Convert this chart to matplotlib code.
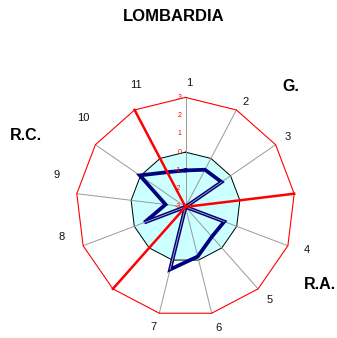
import matplotlib
matplotlib.use("Agg")
import matplotlib.pyplot as plt
import numpy as np

plt.rcParams['font.family'] = ['Liberation Sans', 'DejaVu Sans']

# Data (scale -3 .. 3, empty names are group separators)
categories = ["1", "2", "3", "", "4", "5", "6", "7", "", "8", "9", "10", "11"]
values = [-1.0, -0.7, -0.6, -3.0, -0.73, -0.82, -0.2, 0.53, -3.0, -0.59, -1.9, 0.04, -0.85]
separators = [3, 8, 12]
tick_values = [3, 2, 1, 0, -1, -2, -3]
groups = ["G.", "R.A.", "R.C."]
r_min, r_max = -3, 3

# pixel nudges for the category labels (Excel places them a bit irregularly)
label_nudge = {"1": (4, -3), "2": (1, -8), "3": (-2, -2), "4": (3, 2), "5": (0, 2),
               "6": (3, 2), "7": (-2, 3), "8": (-5, 15), "9": (-3, 17),
               "10": (2, 17), "11": (9, 9)}

n = len(categories)
angles = np.arange(n) * 2 * np.pi / n
closed_angles = np.append(angles, angles[0])
closed_values = np.append(values, values[0])

fig = plt.figure(figsize=(3.37, 3.38), dpi=100)
ax = fig.add_axes([0.2255, 0.0639, 0.6499, 0.6479], projection="polar")
ax.set_theta_zero_location("N")
ax.set_theta_direction(-1)
ax.set_ylim(r_min, r_max)
ax.set_axis_off()

# zero level area
zero = np.zeros(n + 1)
ax.fill(closed_angles, zero, color="#ccffff", zorder=1)
ax.plot(closed_angles, zero, color="black", lw=0.7, zorder=2)

# spokes
for a in angles:
    ax.plot([a, a], [r_min, r_max], color="#999999", lw=0.7, zorder=3, clip_on=False)

# outer frame
ax.plot(closed_angles, np.full(n + 1, r_max), color="red", lw=0.8, zorder=3, clip_on=False)

# data line
ax.plot(closed_angles, closed_values, color="#000080", lw=2.7, zorder=4,
        solid_joinstyle="miter")
for i in range(n):
    if values[i] == r_min or values[(i + 1) % n] == r_min:
        ax.plot(closed_angles[i:i + 2], closed_values[i:i + 2], color="#b0b0b0",
                lw=0.6, zorder=4.5)

# group separators
for s in separators:
    ax.plot([angles[s], angles[s]], [r_min, r_max], color="red", lw=1.8, zorder=5,
            clip_on=False)

# radial tick labels
for v in tick_values:
    ax.annotate(str(v), (0, v), xytext=(-3, 0), textcoords="offset points",
                color="red", fontsize=5, ha="right", va="center", zorder=6)

# category labels
for a, c in zip(angles, categories):
    if c:
        ax.annotate(c, (a, 3.96), xytext=label_nudge[c], textcoords="offset pixels",
                    ha="center", va="center", fontsize=8, color="#111111",
                    annotation_clip=False)

fig.text(0.515, 0.952, "LOMBARDIA", ha="center", va="center", fontsize=12,
         fontweight="bold")
fig.text(0.864, 0.745, groups[0], ha="center", va="center", fontsize=11.5,
         fontweight="bold")
fig.text(0.948, 0.157, groups[1], ha="center", va="center", fontsize=11.5,
         fontweight="bold")
fig.text(0.076, 0.600, groups[2], ha="center", va="center", fontsize=11.5,
         fontweight="bold")

fig.savefig("out.png", dpi=100)
